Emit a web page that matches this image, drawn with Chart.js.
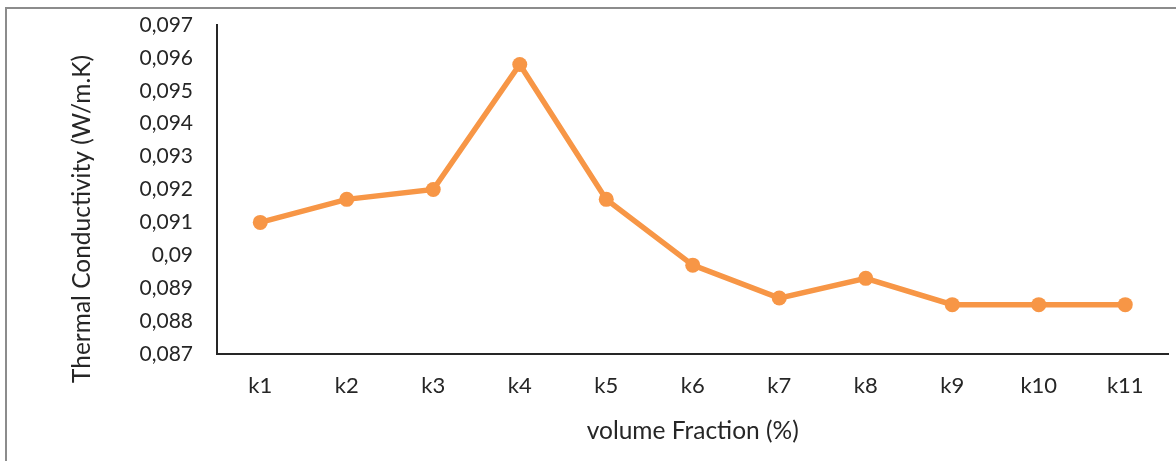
<!DOCTYPE html>
<html><head><meta charset="utf-8">
<script src="https://cdn.jsdelivr.net/npm/chart.js@4/dist/chart.umd.min.js"></script>
<style>
html,body{margin:0;padding:0;background:#fff;}
#frame{position:absolute;left:5px;top:7px;width:1200px;height:480px;border-left:2px solid #8c8c8c;border-top:2px solid #8c8c8c;}
#wrap{position:absolute;left:0;top:0;width:1176px;height:461px;}
</style></head>
<body>
<div id="frame"></div>
<div id="wrap"><canvas id="c" width="1176" height="461"></canvas></div>
<script>
const categories = ["k1","k2","k3","k4","k5","k6","k7","k8","k9","k10","k11"];
const conductivity = [0.0910,0.0917,0.0920,0.0958,0.0917,0.0897,0.0887,0.0893,0.0885,0.0885,0.0885];
const yTicks = [0.087,0.088,0.089,0.090,0.091,0.092,0.093,0.094,0.095,0.096,0.097];
const xTitle = "volume Fraction (%)";
const yTitle = "Thermal Conductivity (W/m.K)";

const FONT = "Lato, 'Open Sans', sans-serif";
const titlePlugin = {
  id:'titles',
  afterDraw(chart){
    const {ctx, chartArea:a} = chart;
    ctx.save();
    ctx.fillStyle = '#262626';
    ctx.font = "24.5px " + FONT;
    ctx.textAlign = 'center';
    ctx.textBaseline = 'middle';
    ctx.fillText(xTitle, (a.left+a.right)/2, 431);
    ctx.translate(82, 219);
    ctx.rotate(-Math.PI/2);
    ctx.fillText(yTitle, 0, 0);
    ctx.restore();
  }
};

new Chart(document.getElementById('c'), {
  type:'line',
  data:{labels:categories, datasets:[{
    data:conductivity,
    borderColor:'#F79646', backgroundColor:'#F79646',
    borderWidth:5.5, pointRadius:7.5, pointHoverRadius:7.5,
    pointBackgroundColor:'#F79646', pointBorderColor:'#F79646', pointBorderWidth:0,
    tension:0
  }]},
  options:{
    responsive:false, animation:false,
    layout:{padding:{top:25,right:7,left:0,bottom:0}},
    plugins:{legend:{display:false}, tooltip:{enabled:false}},
    scales:{
      x:{
        offset:true,
        grid:{display:false, drawTicks:false},
        border:{display:true, color:'#262626', width:2},
        ticks:{color:'#262626', font:{family:FONT, size:22}, padding:19, maxRotation:0},
        afterFit(s){ s.height = 107; s.paddingLeft = 0; s.paddingRight = 0; }
      },
      y:{
        min:0.087, max:0.097,
        afterBuildTicks(s){ s.ticks = yTicks.map(v=>({value:v})); },
        grid:{display:false, drawTicks:false},
        border:{display:true, color:'#262626', width:2},
        ticks:{color:'#262626', font:{family:FONT, size:21}, padding:24,
          callback:(v)=>{ return String(Math.round(v*1000)/1000).replace('.',','); }},
        afterFit(s){ s.width = 217; s.paddingTop = 0; s.paddingBottom = 0; }
      }
    }
  },
  plugins:[titlePlugin]
});
</script>
</body></html>
